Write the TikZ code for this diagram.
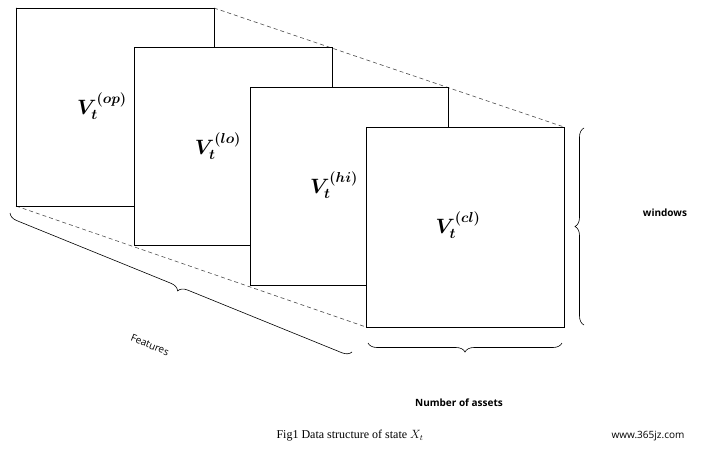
\documentclass[tikz,border=0pt]{standalone}
\usepackage{amsmath}
\usepackage{amssymb}
\usepackage{bm}
\usepackage{fontspec}
\setmainfont{Liberation Serif}
\newfontfamily\sansfont{Open Sans}
\usetikzlibrary{decorations.pathreplacing}

\tikzset{
  slab/.style={draw, line width=0.9pt, fill=white, minimum width=198, minimum height=198, inner sep=0pt},
  edge/.style={dash pattern={on 4pt off 3pt}, line width=0.6pt, gray!60!black},
  bracket/.style={decorate, decoration={brace, amplitude=9pt}, line width=0.6pt},
  lbl/.style={font=\sansfont\bfseries\normalsize}
}

\begin{document}
\begin{tikzpicture}[x=1pt,y=1pt,yscale=-1,xscale=1]
\useasboundingbox (0,0) rectangle (710,450);

%Dashed guide lines
\coordinate (tl1) at (16,8);
\coordinate (tr1) at (214,8);
\coordinate (bl1) at (16,206);
\coordinate (tl4) at (366,127);
\coordinate (tr4) at (564,127);
\coordinate (bl4) at (366,327);
\draw [edge] (tl1) -- (tl4);
\draw [edge] (tr1) -- (tr4);
\draw [edge] (bl1) -- (bl4);

%Slabs
\node [slab] (op) at (115,107) {};
\node [slab] (lo) at (233,146) {};
\node [slab] (hi) at (349,186) {};
\node [slab, minimum height=200] (cl) at (465,227) {};

% Text Node
\node at (102,106) {\huge $\bm{V_t^{(op)}}$};
\node at (218,146) {\huge $\bm{V_t^{(lo)}}$};
\node at (334,185) {\huge $\bm{V_t^{(hi)}}$};
\node at (458,225) {\huge $\bm{V_t^{(cl)}}$};

%Braces
\coordinate (fa) at (352,352);
\coordinate (fb) at (10,213);
\draw [bracket] (fa) -- (fb);
\coordinate (wa) at (584,128);
\coordinate (wb) at (584,325);
\draw [bracket, decoration={mirror}] (wa) -- (wb);
\coordinate (na) at (368,343);
\coordinate (nb) at (562,343);
\draw [bracket, decoration={mirror}] (na) -- (nb);

\node [font=\sansfont\normalsize, rotate=-22] (feat) at (150,345) {Features};
\node [lbl] (win) at (665,213) {windows};
\node [lbl] (num) at (459,403) {Number of assets};
\node [font=\large] (cap) at (350,436) {Fig1 Data structure of state $X_t$};
\node [font=\sansfont\normalsize] (wm) at (648,436) {www.365jz.com};
\end{tikzpicture}
\end{document}
